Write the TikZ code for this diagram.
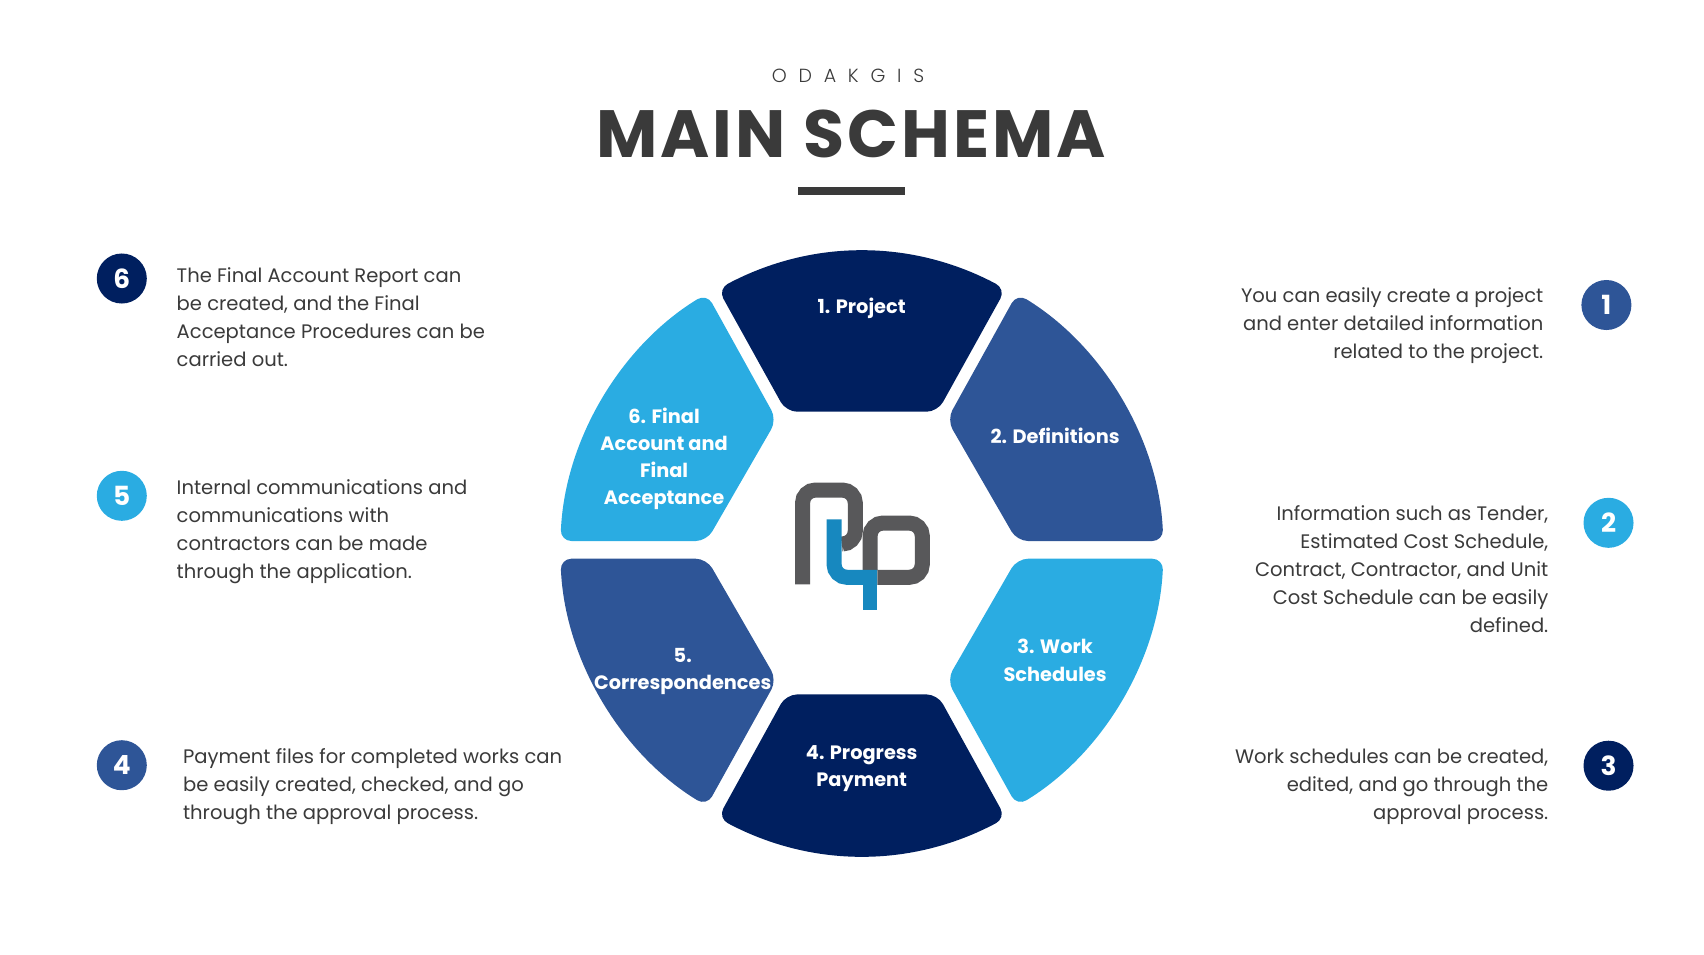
\documentclass[tikz,border=0pt]{standalone}
\usepackage{fontspec}
\setmainfont{Poppins}
\newfontfamily\trackfont[LetterSpace=62]{Poppins Light}
\newfontfamily\headfont[LetterSpace=4.6]{Poppins}
\usepackage{xcolor}
\usepackage{tikz}
\definecolor{navy}{HTML}{001F5F}
\definecolor{midblue}{HTML}{2E5597}
\definecolor{skyblue}{HTML}{2AACE2}
\definecolor{inkgray}{HTML}{3A3A3A}
\definecolor{logogray}{HTML}{58585A}
\definecolor{logoblue}{HTML}{1788BF}

\begin{document}
\begin{tikzpicture}[
  x=0.01cm, y=-0.01cm,
  segment/.style={rounded corners=0.11cm},
  seglabel/.style={align=center, text=white, inner sep=0pt,
    font=\fontsize{5.5}{7.7}\selectfont\bfseries},
  badge/.style={circle, minimum size=0.5cm, inner sep=0pt, text=white,
    font=\fontsize{7.5}{9}\selectfont\bfseries},
  lefttext/.style={anchor=west, align=left, inner sep=0pt, text=inkgray,
    font=\fontsize{5.56}{7.95}\selectfont},
  righttext/.style={anchor=east, align=right, inner sep=0pt, text=inkgray,
    font=\fontsize{5.56}{7.95}\selectfont},
  logostroke/.style={line width=0.15cm, rounded corners=0.13cm}
]
  \useasboundingbox (0,0) rectangle (1704,954);

  % heading
  \node[inner sep=0pt, text=inkgray, font=\fontsize{5.4}{6}\trackfont] (brand) at (848,76) {ODAKGIS};
  \node[inner sep=0pt, text=inkgray, font=\fontsize{19}{22}\headfont\bfseries] (title) at (851,134) {MAIN SCHEMA};
  \fill[inkgray] (797.6,187) rectangle (905.2,194.5);

  % wheel
  \fill[navy, segment] (718,289) to[bend left=28, looseness=0.95] (1005.7,289) -- (937.6,411.7) -- (786.1,411.7) -- cycle;
  \fill[midblue, segment] (1017,293.5) to[bend left=28, looseness=0.9] (1163.3,541) -- (1017,541) -- (947,419.8) -- cycle;
  \fill[skyblue, segment] (1163.3,558.7) to[bend left=28, looseness=0.9] (1017,806) -- (947,679.9) -- (1017,558.7) -- cycle;
  \fill[navy, segment] (1005.7,818) to[bend left=28, looseness=0.95] (718,818) -- (786.1,694.4) -- (937.6,694.4) -- cycle;
  \fill[midblue, segment] (706.7,806) to[bend left=28, looseness=0.9] (560.4,558.7) -- (706.7,558.7) -- (776.7,679.9) -- cycle;
  \fill[skyblue, segment] (560.4,541) to[bend left=28, looseness=0.9] (706.7,293.5) -- (776.7,419.8) -- (706.7,541) -- cycle;

  \node[seglabel] (project) at (861.7,308) {1. Project};
  \node[seglabel] (definitions) at (1055.1,435.8) {2. Definitions};
  \node[seglabel] (work) at (1055.1,660.3) {3. Work\\Schedules};
  \node[seglabel] (payment) at (861.7,769) {4. Progress\\Payment};
  \node[seglabel] (corresp) at (682.7,671.5) {5.\\Correspondences};
  \node[seglabel] (final) at (664.1,458.8) {6. Final\\Account and\\Final\\Acceptance};

  % logo
  \draw[logogray, logostroke] (802.5,584.3) -- (802.5,490) -- (855.3,490) -- (855.3,544) -- (842.7,544);
  \draw[logogray, logostroke] (870,570) -- (870,523) -- (922.3,523) -- (922.3,577.3) -- (877.3,577.3);
  \draw[logoblue, logostroke] (834,519.3) -- (834,577.3) -- (877,577.3);
  \draw[logoblue, line width=0.14cm] (870,570) -- (870,610);

  % right column
  \node[badge, fill=midblue] (badgeone) at (1606.4,305) {1};
  \node[badge, fill=skyblue] (badgetwo) at (1608.5,522.8) {2};
  \node[badge, fill=navy] (badgethree) at (1608.5,765.7) {3};
  \node[righttext] (textone) at (1544,325.5) {You can easily create a project\\and enter detailed information\\related to the project.};
  \node[righttext] (texttwo) at (1549,569) {Information such as Tender,\\Estimated Cost Schedule,\\Contract, Contractor, and Unit\\Cost Schedule can be easily\\defined.};
  \node[righttext] (textthree) at (1549,786.4) {Work schedules can be created,\\edited, and go through the\\approval process.};

  % left column
  \node[badge, fill=navy] (badgesix) at (121.8,278.5) {6};
  \node[badge, fill=skyblue] (badgefive) at (121.8,495.8) {5};
  \node[badge, fill=midblue] (badgefour) at (121.8,765.2) {4};
  \node[lefttext] (textsix) at (176,316.8) {The Final Account Report can\\be created, and the Final\\Acceptance Procedures can be\\carried out.};
  \node[lefttext] (textfive) at (176,531.4) {Internal communications and\\communications with\\contractors can be made\\through the application.};
  \node[lefttext] (textfour) at (182.4,786.4) {Payment files for completed works can\\be easily created, checked, and go\\through the approval process.};
\end{tikzpicture}
\end{document}
